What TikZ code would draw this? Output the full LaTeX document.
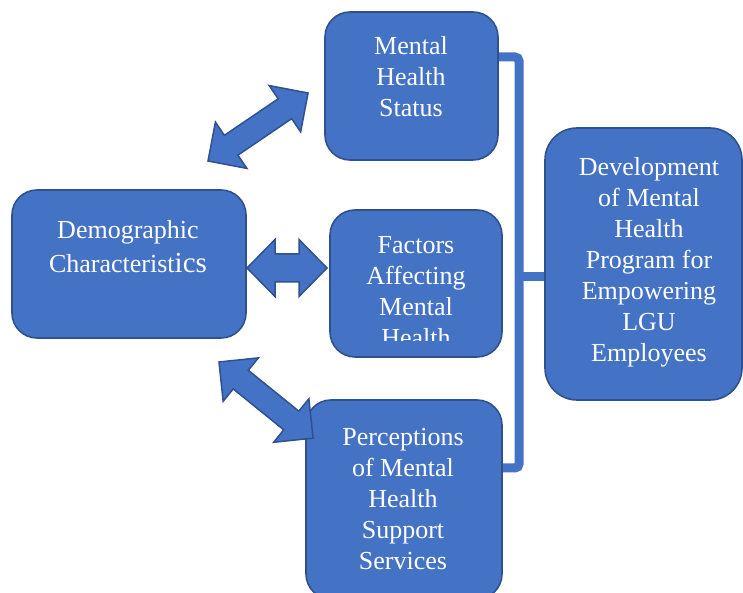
\documentclass[tikz,border=0pt]{standalone}
\usepackage{fontspec}
\setmainfont{Liberation Serif}
\usetikzlibrary{calc}
\definecolor{boxblue}{HTML}{4472C4}
\definecolor{boxedge}{HTML}{2F528F}
\tikzset{
  card/.style={draw=boxedge, line width=1.6pt, fill=boxblue, inner sep=0pt,
    rectangle, rounded corners=25pt},
  caption/.style={text=white, align=center, inner sep=0pt,
    font=\fontsize{26}{31}\selectfont},
  link/.style={draw=boxblue, line width=9pt, rounded corners=4pt},
  twoway/.style={draw=boxedge, line width=1.5pt, fill=boxblue, line join=miter}
}
% double-headed block arrow: #1 start, #2 angle, #3 length, #4 shaft width, #5 head width
\newcommand\twowayarrow[5]{%
  \begin{scope}[shift={#1}, rotate=#2]
    \path[twoway] (0,0) -- (28,{#5/2}) -- (28,{#4/2}) -- ({#3-28},{#4/2})
      -- ({#3-28},{#5/2}) -- (#3,0) -- ({#3-28},{-#5/2}) -- ({#3-28},{-#4/2})
      -- (28,{-#4/2}) -- (28,{-#5/2}) -- cycle;
  \end{scope}}
\begin{document}
\begin{tikzpicture}[x=1pt, y=1pt]
  \useasboundingbox (0,0) rectangle (743,593);
  \clip (0,0) rectangle (743,593);

  % bracket joining the three inputs to the program box
  \coordinate (jt) at (519,536);
  \coordinate (jb) at (519,125);
  \coordinate (jm) at (519,316);
  \path[link] (498,536) -- (jt) -- (jb) -- (502,125);
  \path[link, rounded corners=0pt] (jm) -- (548,316);

  % boxes
  \node[card, minimum width=173pt, minimum height=148pt] (ms) at (411.5,507) {};
  \node[card, minimum width=234pt, minimum height=148pt] (dc) at (129,329) {};
  \node[card, minimum width=172pt, minimum height=147pt] (fa) at (416,309.5) {};
  \node[card, minimum width=197pt, minimum height=272pt, rounded corners=32pt] (dev) at (643.5,329) {};
  \node[card, minimum width=196pt, minimum height=199pt] (pc) at (404,93.5) {};

  % labels
  \node[caption] (msT) at (411,516) {Mental\\Health\\Status};
  \node[caption] (dcT) at (128,346) {Demographic\\[3pt]Characterist{\fontsize{29}{31}\selectfont ics}};
  \begin{scope}
    \clip (330,252) rectangle (502,383);
    \node[caption] (faT) at (416,301.5) {Factors\\Affecting\\Mental\\Health};
  \end{scope}
  \node[caption] (devT) at (649,331) {Development\\of Mental\\Health\\Program for\\Empowering\\LGU\\Employees};
  \node[caption] (pcT) at (403,93.5) {Perceptions\\of Mental\\Health\\Support\\Services};

  % two-way relations with the demographic box
  \twowayarrow{(208,432)}{34.2}{121}{24}{56}
  \twowayarrow{(247,325)}{0}{80}{28}{57}
  \twowayarrow{(219,231)}{-39}{121}{24}{56}
\end{tikzpicture}
\end{document}
